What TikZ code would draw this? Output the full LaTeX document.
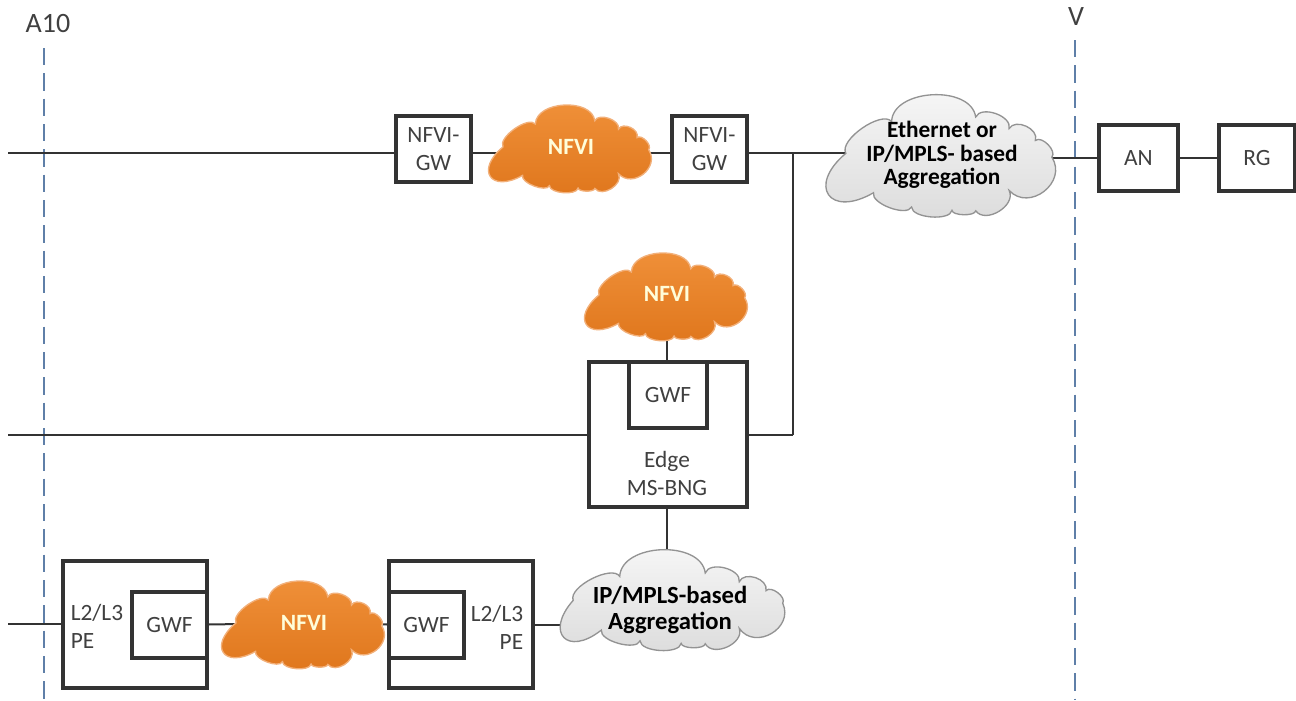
\documentclass[tikz,border=0pt]{standalone}
\usepackage{fontspec}
\setmainfont{Carlito}
\usepackage{xcolor}
\usetikzlibrary{backgrounds}
\definecolor{boxline}{HTML}{333333}
\definecolor{boxtext}{HTML}{404040}
\definecolor{cutline}{HTML}{5F7FA8}
\definecolor{nfvitop}{HTML}{F0913A}
\definecolor{nfvibot}{HTML}{DF761C}
\definecolor{nfviedge}{HTML}{F2B07A}
\tikzset{
  box/.style 2 args={rectangle, draw=boxline, line width=2.5pt, fill=white, text=boxtext, align=center, inner sep=0pt, minimum width=#1*0.75pt, minimum height=#2*0.75pt, font=\fontsize{17.5}{21}\selectfont},
  caption/.style={text=boxtext, align=center, inner sep=0pt, font=\fontsize{17.5}{21}\selectfont},
  cuttext/.style={text=boxtext, inner sep=0pt, font=\fontsize{21}{25}\selectfont},
  nfvipuff/.style={draw=nfviedge, line width=1pt, top color=nfvitop, bottom color=nfvibot},
  aggrpuff/.style={draw=gray!85, line width=1pt, top color=gray!6, bottom color=gray!28},
  nfvitext/.style={text=yellow!15, inner sep=0pt, font=\fontsize{17.5}{21}\bfseries\selectfont},
  aggrtext/.style={text=black, align=center, inner sep=0pt, font=\fontsize{17.5}{17.5}\bfseries\selectfont},
  wire/.style={draw=boxline, line width=1.5pt},
  cut/.style={draw=cutline, line width=1pt, dash pattern=on 13pt off 6pt},
  lobe/.style={bend left=85, looseness=#1}
}
% style, centre x, centre y, width, height
\newcommand{\puffy}[5]{\path[#1, shift={(#2,#3)}, x=#4*0.0075pt, y=-#5*0.0075pt]
  (-41.4,-1.8) to[lobe=0.7] (-21.7,-27.8) to[lobe=1.0] (14.5,-31.5)
  to[lobe=0.95] (28.9,-22) to[lobe=1.1] (40.2,-12.3) to[lobe=0.9] (47.3,1.4)
  to[lobe=1.4] (28.9,28.6) to[lobe=1.1] (14.5,45.3) to[lobe=0.6] (4.3,44.9)
  to[lobe=0.7] (-13.1,42.2) to[lobe=0.7] (-29.5,30.5) to[lobe=2.7] (-41.4,-1.8) -- cycle;}
\begin{document}
\begin{tikzpicture}[x=0.75pt,y=-0.75pt]
\useasboundingbox (0,0) rectangle (1296,700);
% Points
\node[cuttext] (a10) at (48,24) {A10};
\node[cuttext] (v) at (1076,17) {V};
\coordinate (a10top) at (44,48);
\coordinate (a10bot) at (44,700);
\coordinate (vtop) at (1075,40);
\coordinate (vbot) at (1075,700);
\coordinate (top0) at (8,153);
\coordinate (mid0) at (8,435);
\coordinate (low0) at (8,624);
\coordinate (tee) at (793,153);

\node[box={75}{66}] (gw1) at (433.5,149) {NFVI-\\GW};
\puffy{nfvipuff}{571}{148.5}{164}{88}
\node[nfvitext] (nfvi1) at (571,147) {NFVI};
\node[box={75}{66}] (gw2) at (709.5,149) {NFVI-\\GW};
\puffy{aggrpuff}{942}{155.5}{232}{122}
\node[aggrtext] (eth) at (942,155) {Ethernet or\\IP/MPLS- based\\Aggregation};
\node[box={79}{66}] (an) at (1138.5,158) {AN};
\node[box={76}{66}] (rg) at (1257,158) {RG};

\puffy{nfvipuff}{667}{296.5}{164}{88}
\node[nfvitext] (nfvi2) at (667,294) {NFVI};
\node[box={158}{145}] (edge) at (668,434.5) {};
\node[box={78}{66}] (gwfe) at (668,395) {GWF};
\node[caption] (edgetxt) at (667,473) {Edge\\MS-BNG};

\node[box={144}{127}] (pe1) at (135,624.5) {};
\node[box={75}{66}] (gwf1) at (169.5,625) {GWF};
\node[caption, align=left] (pe1txt) at (97,626) {L2/L3\\PE};
\puffy{nfvipuff}{304}{624.5}{164}{88}
\node[nfvitext] (nfvi3) at (304,623) {NFVI};
\node[box={144}{127}] (pe2) at (461,624.5) {};
\node[box={75}{66}] (gwf2) at (426.5,625) {GWF};
\node[caption, align=right] (pe2txt) at (497,627) {L2/L3\\PE};
\puffy{aggrpuff}{671}{602}{236}{92}
\node[aggrtext, font=\fontsize{18.5}{19}\bfseries\selectfont] (ipm) at (670,610) {IP/MPLS-based\\Aggregation};

%Lines
\begin{scope}[on background layer]
\draw[cut] (a10top) -- (a10bot);
\draw[cut] (vtop) -- (vbot);
\draw[wire] (top0) -- (top0 -| gw1.west);
\draw[wire] (gw1.east |- top0) -- (top0 -| nfvi1);
\draw[wire] (nfvi1 |- top0) -- (top0 -| gw2.west);
\draw[wire] (gw2.east |- top0) -- (top0 -| eth);
\draw[wire] (eth.center |- an.west) -- (an.west);
\draw[wire] (an.east) -- (rg.west);
\draw[wire] (tee) -- (tee |- edge.east);
\draw[wire] (tee |- edge.east) -- (edge.east);
\draw[wire] (mid0) -- (mid0 -| edge.west);
\draw[wire] (nfvi2) -- (gwfe.north -| nfvi2);
\draw[wire] (edge.south -| nfvi2) -- (ipm.center -| nfvi2);
\draw[wire] (low0) -- (low0 -| pe1.west);
\draw[wire] (pe1.east) -- (nfvi3);
\draw[wire] (nfvi3) -- (pe2.west);
\draw[wire] (pe2.east) -- (ipm.center |- pe2.east);
\end{scope}
\end{tikzpicture}
\end{document}
